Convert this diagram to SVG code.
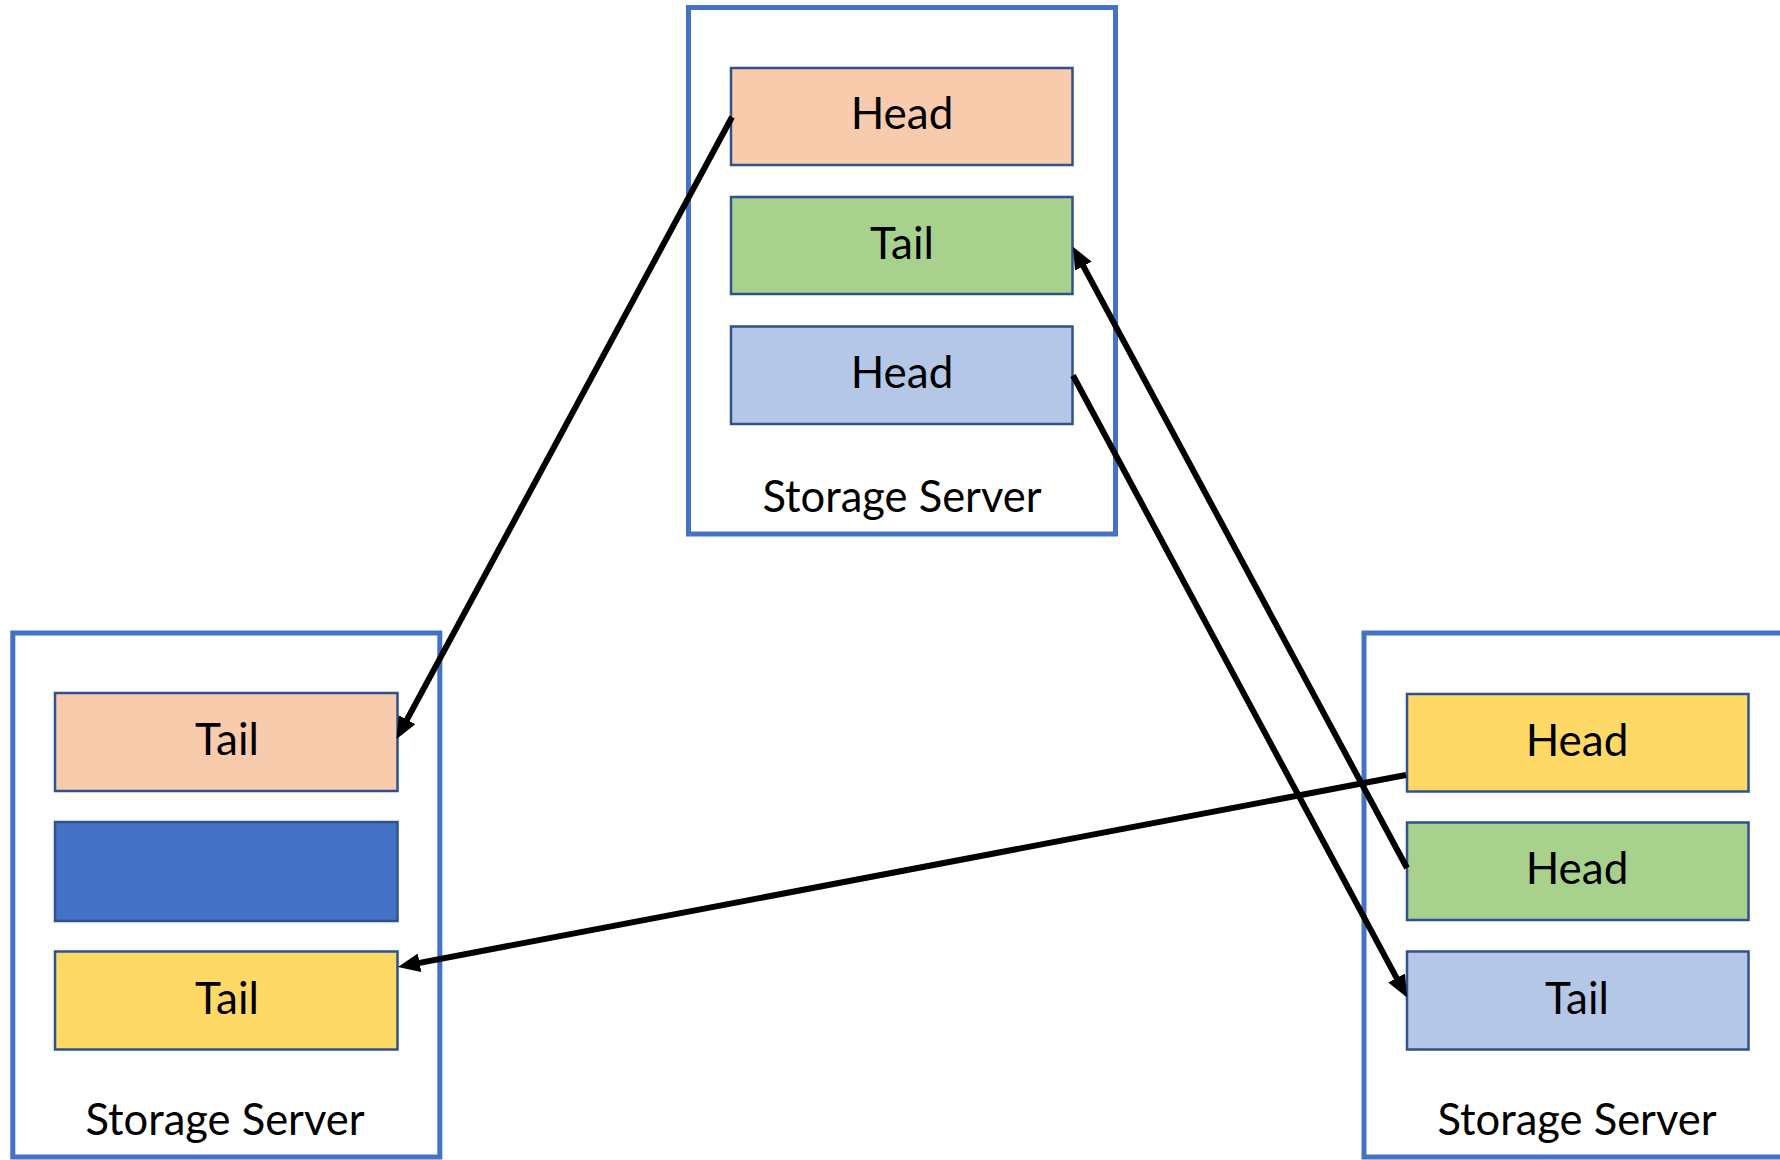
<svg xmlns="http://www.w3.org/2000/svg" width="1780" height="1160" viewBox="0 0 1780 1160">
<style>
.server{fill:#FFFFFF;stroke:#4472C4;stroke-width:5}
.blk{stroke:#2F528F;stroke-width:2.5}
.lbl{font-family:Lato,"Liberation Sans",sans-serif;font-size:44px;fill:#000;text-anchor:middle}
.slbl{font-family:Lato,"Liberation Sans",sans-serif;font-size:43.5px;fill:#000;text-anchor:middle}
.conn{stroke:#000;stroke-width:6;fill:none}
</style>
<defs>
<marker id="arr" markerUnits="userSpaceOnUse" markerWidth="22" markerHeight="19" viewBox="0 0 22 19" refX="12" refY="9.5" orient="auto">
<path d="M0,0 L22,9.5 L0,19 z" fill="#000"/>
</marker>
</defs>
<rect width="1780" height="1160" fill="#FFFFFF"/>
<g id="server-top">
<rect class="server" x="688.5" y="7.5" width="427" height="526.5"/>
<text class="slbl" x="902" y="511.5">Storage Server</text>
</g>
<g id="top-head1">
<rect class="blk" x="731" y="68" width="341.5" height="97" fill="#F8CBAD"/>
<text class="lbl" x="902" y="129">Head</text>
</g>
<g id="top-tail">
<rect class="blk" x="731" y="197" width="341.5" height="97" fill="#A9D18E"/>
<text class="lbl" x="902" y="258.5">Tail</text>
</g>
<g id="top-head2">
<rect class="blk" x="731" y="326.5" width="341.5" height="97.5" fill="#B4C7E7"/>
<text class="lbl" x="902" y="387.5">Head</text>
</g>
<g id="server-left">
<rect class="server" x="12.8" y="633" width="427" height="524"/>
<text class="slbl" x="225" y="1135">Storage Server</text>
</g>
<g id="left-tail1">
<rect class="blk" x="55" y="693" width="342.5" height="98" fill="#F8CBAD"/>
<text class="lbl" x="227" y="755">Tail</text>
</g>
<g id="left-empty">
<rect class="blk" x="55" y="822" width="342.5" height="99" fill="#4472C4"/>
</g>
<g id="left-tail2">
<rect class="blk" x="55" y="951.5" width="342.5" height="98" fill="#FFD966"/>
<text class="lbl" x="227" y="1014">Tail</text>
</g>
<g id="server-right">
<rect class="server" x="1364" y="633" width="427" height="524"/>
<text class="slbl" x="1577" y="1135">Storage Server</text>
</g>
<g id="right-head1">
<rect class="blk" x="1407" y="694" width="341.5" height="97.5" fill="#FFD966"/>
<text class="lbl" x="1577" y="755.5">Head</text>
</g>
<g id="right-head2">
<rect class="blk" x="1407" y="822.5" width="341.5" height="97.5" fill="#A9D18E"/>
<text class="lbl" x="1577" y="884">Head</text>
</g>
<g id="right-tail">
<rect class="blk" x="1407" y="951.5" width="341.5" height="98" fill="#B4C7E7"/>
<text class="lbl" x="1577" y="1014">Tail</text>
</g>
<g id="connectors">
<line class="conn" x1="732" y1="117" x2="401.3" y2="730.2" marker-end="url(#arr)"/>
<line class="conn" x1="1407" y1="868" x2="1077.7" y2="255.6" marker-end="url(#arr)"/>
<line class="conn" x1="1073" y1="375.5" x2="1402.3" y2="988.6" marker-end="url(#arr)"/>
<line class="conn" x1="1406" y1="775" x2="407.8" y2="965.1" marker-end="url(#arr)"/>
</g>
</svg>
